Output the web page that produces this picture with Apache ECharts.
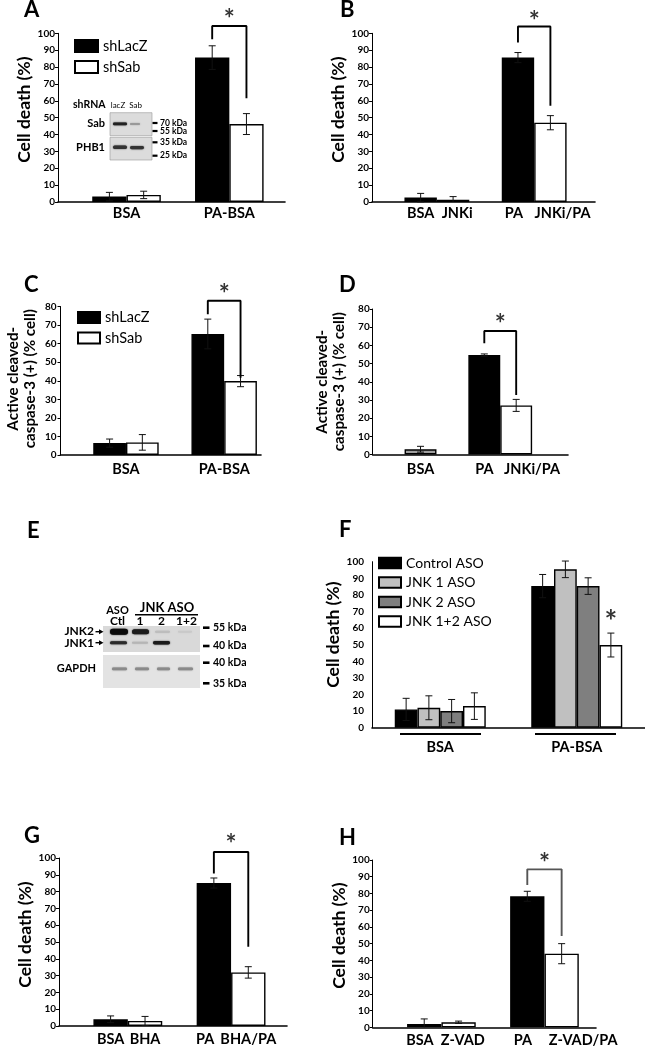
<!DOCTYPE html>
<html><head><meta charset="utf-8">
<script src="https://cdn.jsdelivr.net/npm/echarts@6/dist/echarts.min.js"></script>
<style>html,body{margin:0;padding:0;background:#fff}#c{width:645px;height:1049px}</style>
</head><body><div id="c"></div>
<script>
// ---------------- DATA ----------------
// Panel A
const aGroups = ['BSA', 'PA-BSA'];
const aLacZ = [3.2, 85.6];
const aLacZErr = [2.5, 7];
const aSab = [4.2, 46.2];
const aSabErr = [2.2, 6.2];
// Panel B
const bCats = ['BSA', 'JNKi', 'PA', 'JNKi/PA'];
const bVals = [2.6, 1.4, 85.6, 47];
const bErr = [2.5, 1.8, 3, 4.2];
// Panel C
const cGroups = ['BSA', 'PA-BSA'];
const cLacZ = [6.4, 65.2];
const cLacZErr = [2.2, 8];
const cSab = [6.8, 39.8];
const cSabErr = [4.2, 3];
// Panel D
const dCats = ['BSA', 'PA', 'JNKi/PA'];
const dVals = [2.9, 54.7, 27];
const dErr = [1.6, 0.6, 3.3];
// Panel F
const fGroups = ['BSA', 'PA-BSA'];
const fNames = ['Control ASO', 'JNK 1 ASO', 'JNK 2 ASO', 'JNK 1+2 ASO'];
const fControl = [11, 85.3];
const fControlErr = [6.7, 7];
const fJnk1 = [12, 95.4];
const fJnk1Err = [7.2, 5];
const fJnk2 = [10, 85.3];
const fJnk2Err = [7, 5];
const fJnk12 = [13, 49.8];
const fJnk12Err = [8, 7.2];
// Panel G
const gCats = ['BSA', 'BHA', 'PA', 'BHA/PA'];
const gVals = [4, 3, 85.1, 31.9];
const gErr = [2, 2.7, 3, 3.4];
// Panel H
const hCats = ['BSA', 'Z-VAD', 'PA', 'Z-VAD/PA'];
const hVals = [2, 3, 78.3, 44];
const hErr = [3, 0.7, 3, 6];
// axis ranges
const deathMax = 100, caspMax = 80, yStep = 10;
const deathName = 'Cell death (%)';
const caspName = 'Active cleaved-\ncaspase-3 (+) (% cell)';

// ---------------- STYLE / LAYOUT ----------------
const FONT = 'Lato, "Open Sans", "DejaVu Sans", sans-serif';
const BLACK = '#000', WHITE = '#fff', LGRAY = '#c0c0c0', DGRAY = '#7f7f7f', MGRAY = '#a0a0a0';

const option = {animation: false, backgroundColor: '#fff', grid: [], xAxis: [], yAxis: [], series: [], legend: [], graphic: {elements: []}};

function errRender(params, api) {
  const x = api.value(0), m = api.value(1), e = api.value(2);
  const t = api.coord([x, m + e]);
  const lowV = m - e;
  const b = api.coord([x, Math.max(0, lowV)]);
  const w = 3.5;
  const st = {stroke: '#111', lineWidth: 1};
  const ch = [
    {type: 'line', shape: {x1: t[0], y1: t[1], x2: b[0], y2: b[1]}, style: st},
    {type: 'line', shape: {x1: t[0] - w, y1: t[1], x2: t[0] + w, y2: t[1]}, style: st}
  ];
  if (lowV > 0) ch.push({type: 'line', shape: {x1: b[0] - w, y1: b[1], x2: b[0] + w, y2: b[1]}, style: st});
  return {type: 'group', children: ch};
}

function slotArray(n, idx, vals, mapFn) {
  const a = new Array(n).fill('-');
  idx.forEach((k, i) => { a[k] = mapFn ? mapFn(vals[i], i) : vals[i]; });
  return a;
}

function addPanel(p) {
  const gi = option.grid.length;
  const n = p.units + 1;
  option.grid.push({left: p.left, top: p.top, width: p.right - p.left, height: p.bottom - p.top, containLabel: false, outerBoundsMode: 'none'});
  const cats = new Array(n).fill('');
  p.labelIdx.forEach((k, i) => { cats[k] = p.labels[i]; });
  option.xAxis.push({
    type: 'category', gridIndex: gi, data: cats, boundaryGap: false,
    axisLine: {show: true, onZero: true, lineStyle: {color: BLACK, width: 1.6}},
    axisTick: {show: false}, splitLine: {show: false},
    axisLabel: {interval: 0, margin: p.labelMargin, color: BLACK, fontFamily: FONT, fontWeight: 'bold', fontSize: 14.5}
  });
  option.yAxis.push({
    type: 'value', gridIndex: gi, min: 0, max: p.yMax, interval: yStep,
    axisLine: {show: true, lineStyle: {color: BLACK, width: 1}},
    axisTick: {show: p.ticks !== false, length: 3, lineStyle: {color: BLACK}},
    splitLine: {show: false},
    axisLabel: {margin: p.tickMargin, color: BLACK, fontFamily: FONT, fontWeight: 'bold', fontSize: 10},
    name: p.yName, nameLocation: 'middle', nameRotate: 90, nameGap: p.nameGap,
    nameTextStyle: {color: BLACK, fontFamily: FONT, fontWeight: 'bold', fontSize: p.nameSize, lineHeight: p.nameLH, padding: p.namePad}
  });
  p.series.forEach(s => {
    option.series.push({
      type: 'bar', name: s.name, xAxisIndex: gi, yAxisIndex: gi, barWidth: p.bw, barGap: '-100%',
      itemStyle: {color: s.color, borderColor: BLACK, borderWidth: 1.4},
      data: slotArray(n, s.idx, s.values, s.colors ? (v, i) => ({value: v, itemStyle: {color: s.colors[i]}}) : null),
      silent: true, z: 2
    });
    option.series.push({
      type: 'custom', xAxisIndex: gi, yAxisIndex: gi, renderItem: errRender,
      data: s.values.map((v, i) => [s.idx[i], v, s.errs[i]]), encode: {x: 0, y: 1}, silent: true, z: 3
    });
  });
  if (p.bracket) {
    const br = p.bracket;
    option.series.push({
      type: 'line', xAxisIndex: gi, yAxisIndex: gi, symbol: 'none', clip: false, silent: true, z: 4,
      lineStyle: {color: br.color, width: 1.9},
      data: [[br.l, br.lb], [br.l, br.top], [br.r, br.top], [br.r, br.rb]]
    });
  }
  if (p.star) {
    option.series.push({
      type: 'scatter', xAxisIndex: gi, yAxisIndex: gi, symbolSize: 1, clip: false, silent: true, z: 5,
      itemStyle: {color: 'rgba(0,0,0,0)'},
      label: {show: true, position: 'inside', formatter: '*', color: BLACK, fontFamily: FONT, fontWeight: 'bold', fontSize: p.star.size},
      data: [[p.star.x, p.star.y]]
    });
  }
}

// Panel A
addPanel({left: 58, right: 285, top: 33.3, bottom: 202, units: 53, yMax: deathMax, bw: 34.3,
  series: [
    {name: 'shLacZ', values: aLacZ, errs: aLacZErr, idx: [12, 36], color: BLACK},
    {name: 'shSab', values: aSab, errs: aSabErr, idx: [20, 44], color: WHITE}],
  labels: aGroups, labelIdx: [16, 40], labelMargin: 4, tickMargin: 3,
  yName: deathName, nameGap: 15.3, nameSize: 17.5, nameLH: 17.5, namePad: [0, 0, 0, 16],
  bracket: {l: 36, r: 44, top: 104.3, lb: 96.4, rb: 61.5, color: BLACK}, star: {x: 40, y: 108.4, size: 26}});
// Panel B
addPanel({left: 372, right: 595, top: 33.3, bottom: 202, units: 55, yMax: deathMax, bw: 32.4,
  series: [{name: 'B', values: bVals, errs: bErr, idx: [12, 20, 36, 44], color: BLACK, colors: [BLACK, BLACK, BLACK, WHITE]}],
  labels: bCats, labelIdx: [12, 21, 35, 47], labelMargin: 4, tickMargin: 3,
  yName: deathName, nameGap: 16.8, nameSize: 17.5, nameLH: 17.5, namePad: [0, 0, 0, 16],
  bracket: {l: 36, r: 44, top: 104, lb: 94.5, rb: 57, color: BLACK}, star: {x: 40, y: 107, size: 26}});
// Panel C
addPanel({left: 60.5, right: 261, top: 306.5, bottom: 455, units: 49, yMax: caspMax, bw: 32.7,
  series: [
    {name: 'shLacZ', values: cLacZ, errs: cLacZErr, idx: [12, 36], color: BLACK},
    {name: 'shSab', values: cSab, errs: cSabErr, idx: [20, 44], color: WHITE}],
  labels: cGroups, labelIdx: [16, 40], labelMargin: 7, tickMargin: 4,
  yName: caspName, nameGap: 21.5, nameSize: 15.2, nameLH: 17.5, namePad: [0, 0, 0, 4],
  bracket: {l: 36, r: 44, top: 83.1, lb: 75.8, rb: 41.6, color: BLACK}, star: {x: 40, y: 86.4, size: 26}});
// Panel D
addPanel({left: 372.7, right: 568, top: 309, bottom: 454.5, units: 49, yMax: caspMax, bw: 31.9,
  series: [{name: 'D', values: dVals, errs: dErr, idx: [12, 28, 36], color: BLACK, colors: [MGRAY, BLACK, WHITE]}],
  labels: dCats, labelIdx: [12, 28, 40], labelMargin: 7.5, tickMargin: 3,
  yName: caspName, nameGap: 24.5, nameSize: 15.2, nameLH: 17.5, namePad: 0,
  bracket: {l: 28, r: 36, top: 67.9, lb: 61.1, rb: 32.7, color: BLACK}, star: {x: 32, y: 71.2, size: 26}});
// Panel F
addPanel({left: 372, right: 645, top: 561.7, bottom: 727.7, units: 96, yMax: deathMax, bw: 22.75,
  series: [
    {name: fNames[0], values: fControl, errs: fControlErr, idx: [12, 60], color: BLACK},
    {name: fNames[1], values: fJnk1, errs: fJnk1Err, idx: [20, 68], color: LGRAY},
    {name: fNames[2], values: fJnk2, errs: fJnk2Err, idx: [28, 76], color: DGRAY},
    {name: fNames[3], values: fJnk12, errs: fJnk12Err, idx: [36, 84], color: WHITE}],
  labels: fGroups, labelIdx: [24, 72], labelMargin: 12, tickMargin: 8, ticks: false,
  yName: deathName, nameGap: 24.8, nameSize: 17.5, nameLH: 17.5, namePad: [0, 0, 0, 20],
  star: {x: 84, y: 63.4, size: 30}});
// Panel G
addPanel({left: 59, right: 287, top: 858, bottom: 1026, units: 53, yMax: deathMax, bw: 34.4,
  series: [{name: 'G', values: gVals, errs: gErr, idx: [12, 20, 36, 44], color: BLACK, colors: [BLACK, WHITE, BLACK, WHITE]}],
  labels: gCats, labelIdx: [12, 20, 34, 44], labelMargin: 6, tickMargin: 3,
  yName: deathName, nameGap: 18.8, nameSize: 17.5, nameLH: 17.5, namePad: [0, 0, 0, 15],
  bracket: {l: 36, r: 44, top: 103.6, lb: 90.7, rb: 47.1, color: BLACK}, star: {x: 40, y: 108, size: 26}});
// Panel H
addPanel({left: 372.7, right: 596, top: 860, bottom: 1027.3, units: 52, yMax: deathMax, bw: 34.3,
  series: [{name: 'H', values: hVals, errs: hErr, idx: [12, 20, 36, 44], color: BLACK, colors: [BLACK, WHITE, BLACK, WHITE]}],
  labels: hCats, labelIdx: [11, 21, 35, 49], labelMargin: 6, tickMargin: 3,
  yName: deathName, nameGap: 17, nameSize: 17.5, nameLH: 17.5, namePad: [0, 0, 0, 16],
  bracket: {l: 36, r: 44, top: 94.4, lb: 85, rb: 54.6, color: '#555'}, star: {x: 40, y: 97.6, size: 26}});

// Legends
const legText = {fontFamily: FONT, fontSize: 14.5, color: BLACK, lineHeight: 15};
option.legend.push({orient: 'vertical', left: 74, top: 38.5, padding: 0, itemWidth: 23, itemHeight: 12, itemGap: 6, icon: 'rect', selectedMode: false, data: ['shLacZ', 'shSab'], textStyle: legText});
option.legend.push({orient: 'vertical', left: 77, top: 310, padding: 0, itemWidth: 22, itemHeight: 11, itemGap: 5.5, icon: 'rect', selectedMode: false, data: ['shLacZ', 'shSab'], textStyle: legText});
option.legend.push({orient: 'vertical', left: 378, top: 556, padding: 0, itemWidth: 22, itemHeight: 10.5, itemGap: 5.5, icon: 'rect', selectedMode: false, data: fNames, textStyle: {fontFamily: FONT, fontSize: 14, color: BLACK, lineHeight: 14}});

// ---------------- Decorations (panel letters, blots, group lines) ----------------
const G = option.graphic.elements;
function txt(t, x, y, size, weight, align) {
  G.push({type: 'text', x: x, y: y, z: 20, silent: true, style: {text: t, fill: BLACK, font: (weight || 'bold') + ' ' + size + 'px ' + FONT, align: align || 'left', verticalAlign: 'middle', textAlign: align || 'left', textVerticalAlign: 'middle'}});
}
function box(x, y, w, h, c, stroke) {
  G.push({type: 'rect', z: 15, silent: true, shape: {x: x, y: y, width: w, height: h}, style: {fill: c, stroke: stroke || null, lineWidth: stroke ? 0.6 : 0}});
}
function band(x, y, w, h, c) {
  G.push({type: 'rect', z: 16, silent: true, shape: {x: x, y: y, width: w, height: h, r: h / 2}, style: {fill: c, shadowBlur: 1.5, shadowColor: c}});
}
function hline(x1, x2, y, w) {
  G.push({type: 'line', z: 16, silent: true, shape: {x1: x1, y1: y, x2: x2, y2: y}, style: {stroke: BLACK, lineWidth: w}});
}
// panel letters
[['A', 24, 10], ['B', 340, 10], ['C', 24, 285], ['D', 339, 284.5], ['E', 27, 530.5], ['F', 339, 529.5], ['G', 24, 835.5], ['H', 339, 837.5]]
  .forEach(l => txt(l[0], l[1], l[2], 22, 'bold'));

// A inset blot
txt('shRNA', 73, 105, 10.5, 'bold');
txt('lacZ', 118, 105, 8, 'normal', 'center');
txt('Sab', 135.5, 105, 8, 'normal', 'center');
txt('Sab', 105, 123.5, 11, 'bold', 'right');
txt('PHB1', 105, 147.5, 11, 'bold', 'right');
box(110, 112.7, 42, 23, '#dcdcdc', '#999');
box(110, 137.3, 42, 22.7, '#dcdcdc', '#999');
band(113, 122.6, 14, 2.6, '#222');
band(130, 123.1, 10, 1.8, '#999');
band(113, 145.6, 14, 3.4, '#333');
band(130, 145.9, 14, 3.4, '#333');
[[123, '70 kDa'], [131, '55 kDa'], [142.3, '35 kDa'], [155.7, '25 kDa']].forEach(m => {
  hline(152.5, 157.5, m[0], 2.2);
  txt(m[1], 160, m[0], 8.5, 'bold');
});

// E blot
txt('ASO', 117.5, 610, 11, 'bold', 'center');
txt('Ctl', 117.5, 621, 12, 'bold', 'center');
txt('JNK ASO', 167, 608, 13, 'bold', 'center');
hline(135, 198, 614.8, 1.5);
txt('1', 140, 621, 12, 'bold', 'center');
txt('2', 161.5, 621, 12, 'bold', 'center');
txt('1+2', 186.5, 621, 12, 'bold', 'center');
box(103, 626, 97, 26, '#d9d9d9');
box(103, 655, 97, 33, '#e3e3e3');
band(110, 628.7, 18, 6, '#0a0a0a');
band(132, 629.2, 17, 5, '#1c1c1c');
band(155, 630.7, 15, 2.2, '#bdbdbd');
band(178, 630.8, 14, 2, '#c9c9c9');
band(110, 641.2, 17, 3, '#2a2a2a');
band(132, 641.7, 16, 2, '#b5b5b5');
band(153, 641, 17, 3.6, '#1a1a1a');
[[112, 15], [135, 14], [157, 13], [178, 15]].forEach(b => band(b[0], 667.6, b[1], 2.6, '#8a8a8a'));
txt('JNK2', 94, 631.5, 12, 'bold', 'right');
txt('JNK1', 94, 643, 12, 'bold', 'right');
txt('GAPDH', 96, 668.5, 11, 'bold', 'right');
[[631.7], [642.7]].forEach(a => {
  hline(95.5, 100, a[0], 1.4);
  G.push({type: 'polygon', z: 16, silent: true, shape: {points: [[99, a[0] - 2.5], [103.5, a[0]], [99, a[0] + 2.5]]}, style: {fill: BLACK}});
});
[[627.7, '55 kDa'], [646, '40 kDa'], [662.7, '40 kDa'], [683.3, '35 kDa']].forEach(m => {
  hline(203, 209.5, m[0], 2.6);
  txt(m[1], 213, m[0], 10.5, 'bold');
});

// F group underlines
hline(400, 481, 734, 2.2);
hline(535, 616, 734, 2.2);

const chart = echarts.init(document.getElementById('c'), null, {renderer: 'canvas'});
chart.setOption(option);
</script>
</body></html>
